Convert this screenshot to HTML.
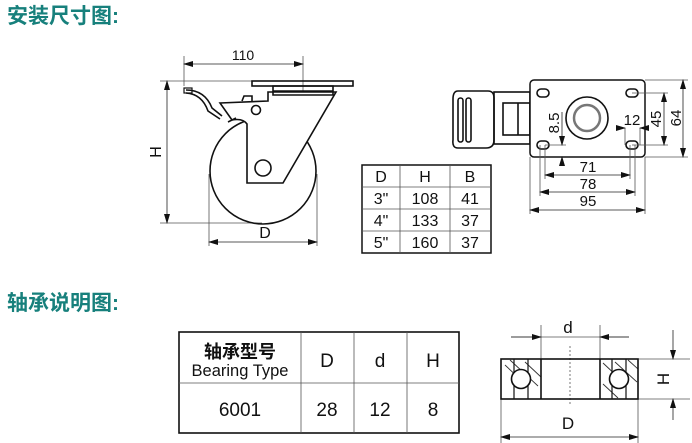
<!DOCTYPE html>
<html><head><meta charset="utf-8"><style>
html,body{margin:0;padding:0;background:#fff;width:692px;height:443px;overflow:hidden}
svg{display:block}
.h{font-family:"Liberation Sans","Noto Sans CJK SC",sans-serif;font-weight:bold;font-size:21px;fill:#17807c}
text{font-family:"Liberation Sans","Noto Sans CJK SC",sans-serif;fill:#111}
.l{stroke:#111;fill:none;stroke-width:1.6}
.t{stroke:#555;fill:none;stroke-width:0.8}
.d{stroke:#222;fill:none;stroke-width:0.8}
</style></head><body>
<svg width="692" height="443" viewBox="0 0 692 443" xmlns="http://www.w3.org/2000/svg">
<defs>
<marker id="a" markerWidth="10" markerHeight="6" refX="9" refY="3" orient="auto" markerUnits="userSpaceOnUse"><path d="M0,0 L10,3 L0,6 Z" fill="#111"/></marker>
<marker id="b" markerWidth="10" markerHeight="6" refX="1" refY="3" orient="auto" markerUnits="userSpaceOnUse"><path d="M10,0 L0,3 L10,6 Z" fill="#111"/></marker>
</defs>
<text x="7" y="23" class="h">安装尺寸图:</text>
<text x="7" y="310" class="h">轴承说明图:</text>

<!-- caster side view -->
<line class="t" x1="184" y1="56" x2="184" y2="86"/>
<line class="t" x1="303" y1="56" x2="303" y2="131"/>
<line class="d" x1="184" y1="64" x2="303" y2="64" marker-start="url(#b)" marker-end="url(#a)"/>
<text x="243" y="60" font-size="14" text-anchor="middle">110</text>
<line class="t" x1="160" y1="81" x2="252" y2="81"/>
<line class="t" x1="160" y1="223" x2="262" y2="223"/>
<line class="d" x1="167" y1="81" x2="167" y2="223" marker-start="url(#b)" marker-end="url(#a)"/>
<text transform="translate(161,152) rotate(-90)" font-size="16" text-anchor="middle">H</text>
<line class="d" x1="263" y1="129" x2="303" y2="129" marker-end="url(#a)"/>
<line class="t" x1="263" y1="129" x2="263" y2="178"/>
<text x="285" y="126" font-size="16" text-anchor="middle">B</text>
<line class="t" x1="209" y1="174" x2="209" y2="246"/>
<line class="t" x1="317" y1="174" x2="317" y2="246"/>
<line class="d" x1="209" y1="242" x2="317" y2="242" marker-start="url(#b)" marker-end="url(#a)"/>
<text x="265" y="238" font-size="16" text-anchor="middle">D</text>
<circle class="l" cx="263" cy="171" r="53"/>
<path d="M220,103 L268,101 L268,92 L336,92 L283,183 L247,183 L247,124 Q243,118 232,120 Z" fill="#fff" stroke="#111" stroke-width="1.6"/>
<rect class="l" x="252" y="81" width="101" height="5" fill="#fff"/>
<path class="l" d="M273,86 L333,86 L333,95 L273,95 Z" fill="#fff"/>
<line class="l" x1="273" y1="91" x2="333" y2="91"/>
<circle class="l" cx="256" cy="110" r="4.5"/>
<circle class="l" cx="263" cy="168" r="8"/>
<path class="l" d="M186,90 Q205,90 212,108 L222,116" stroke-width="1.3"/>
<path class="l" d="M186,93 Q202,94 208,111 L220,119" stroke-width="1.3"/>
<rect x="184" y="88" width="8" height="5" fill="none" stroke="#111" stroke-width="1.2"/>
<path class="l" d="M242,101 L244,96 L252,96 L252,101" stroke-width="1.2"/>
<path class="l" d="M228,122 L236,118" stroke-width="2"/>

<!-- table 1 -->
<g font-size="16" text-anchor="middle">
<rect x="362" y="165" width="129" height="88" fill="none" stroke="#111" stroke-width="1.5"/>
<line class="t" x1="400" y1="165" x2="400" y2="253"/>
<line class="t" x1="450" y1="165" x2="450" y2="253"/>
<line class="t" x1="362" y1="187" x2="491" y2="187"/>
<line class="t" x1="362" y1="209" x2="491" y2="209"/>
<line class="t" x1="362" y1="231" x2="491" y2="231"/>
<text x="381" y="182">D</text><text x="425" y="182">H</text><text x="470" y="182">B</text>
<text x="381" y="204">3"</text><text x="425" y="204">108</text><text x="470" y="204">41</text>
<text x="381" y="226">4"</text><text x="425" y="226">133</text><text x="470" y="226">37</text>
<text x="381" y="248">5"</text><text x="425" y="248">160</text><text x="470" y="248">37</text>
</g>

<!-- top view -->
<path class="l" d="M458,91 L488,91 Q494,91 494,98 L494,140 Q494,148 486,148 L458,148 Q452,148 453,140 L453,99 Q453,91 458,91 Z" stroke-width="1.3"/>
<rect x="458" y="98" width="5" height="44" rx="2.5" class="l" stroke-width="1"/>
<rect x="466" y="98" width="5" height="44" rx="2.5" class="l" stroke-width="1"/>
<rect x="494" y="92" width="36" height="52" class="l" stroke-width="1.3"/>
<rect x="503" y="103" width="27" height="32" class="l" stroke-width="1.3"/>
<line class="l" x1="518" y1="103" x2="518" y2="135" stroke-width="1.1"/>
<rect x="530" y="80" width="115" height="77" rx="4" fill="#fff" stroke="#111" stroke-width="1.5"/>
<rect x="537" y="89" width="12" height="8" rx="4" class="l" stroke-width="1.2"/>
<rect x="626" y="89" width="12" height="8" rx="4" class="l" stroke-width="1.2"/>
<rect x="537" y="141" width="12" height="8" rx="4" class="l" stroke-width="1.2"/>
<rect x="626" y="141" width="12" height="8" rx="4" class="l" stroke-width="1.2"/>
<circle class="l" cx="587" cy="118" r="21" stroke-width="1.3"/>
<circle cx="587" cy="118" r="13" fill="none" stroke="#777" stroke-width="2.5"/>
<g class="t">
<line x1="530" y1="157" x2="530" y2="214"/><line x1="645" y1="157" x2="645" y2="214"/>
<line x1="540" y1="145" x2="540" y2="196"/><line x1="635" y1="145" x2="635" y2="196"/>
<line x1="545" y1="145" x2="545" y2="179"/><line x1="630" y1="145" x2="630" y2="179"/>
<line x1="645" y1="80" x2="688" y2="80"/><line x1="645" y1="157" x2="688" y2="157"/>
<line x1="632" y1="93" x2="668" y2="93"/><line x1="632" y1="145" x2="668" y2="145"/>
<line x1="545" y1="145" x2="566" y2="145"/>
<line x1="625" y1="128" x2="625" y2="145"/><line x1="640" y1="128" x2="640" y2="145"/>
</g>
<line class="d" x1="530" y1="210" x2="645" y2="210" marker-start="url(#b)" marker-end="url(#a)"/>
<line class="d" x1="540" y1="192" x2="635" y2="192" marker-start="url(#b)" marker-end="url(#a)"/>
<line class="d" x1="545" y1="175" x2="630" y2="175" marker-start="url(#b)" marker-end="url(#a)"/>
<line class="d" x1="683" y1="80" x2="683" y2="157" marker-start="url(#b)" marker-end="url(#a)"/>
<line class="d" x1="664" y1="93" x2="664" y2="145" marker-start="url(#b)" marker-end="url(#a)"/>
<line class="d" x1="562" y1="112" x2="562" y2="145" marker-end="url(#a)"/>
<line class="d" x1="562" y1="166" x2="562" y2="157" marker-end="url(#a)"/>
<line class="d" x1="618" y1="128" x2="625" y2="128" marker-end="url(#a)"/>
<line class="d" x1="647" y1="128" x2="640" y2="128" marker-end="url(#a)"/>
<g font-size="15" text-anchor="middle">
<text x="588" y="206">95</text><text x="588" y="189">78</text><text x="588" y="172">71</text>
<text x="632" y="125">12</text>
<text transform="translate(681,118) rotate(-90)">64</text>
<text transform="translate(661,119) rotate(-90)">45</text>
<text transform="translate(559,123) rotate(-90)">8.5</text>
</g>

<!-- bearing table -->
<g text-anchor="middle">
<rect x="179" y="332" width="280" height="101" fill="none" stroke="#111" stroke-width="1.6"/>
<line class="t" x1="301" y1="332" x2="301" y2="433"/>
<line class="t" x1="354" y1="332" x2="354" y2="433"/>
<line class="t" x1="407" y1="332" x2="407" y2="433"/>
<line class="t" x1="179" y1="383" x2="459" y2="383"/>
<text x="240" y="358" font-size="18" font-weight="bold">轴承型号</text>
<text x="240" y="376" font-size="16.5">Bearing Type</text>
<text x="327" y="367" font-size="19">D</text>
<text x="380" y="367" font-size="19">d</text>
<text x="433" y="367" font-size="19">H</text>
<text x="240" y="416" font-size="19">6001</text>
<text x="327" y="416" font-size="19">28</text>
<text x="380" y="416" font-size="19">12</text>
<text x="433" y="416" font-size="19">8</text>
</g>

<!-- bearing drawing -->
<g class="t">
<line x1="541" y1="325" x2="541" y2="359"/><line x1="600" y1="325" x2="600" y2="359"/>
<line x1="501" y1="399" x2="501" y2="443"/><line x1="638" y1="399" x2="638" y2="443"/>
<line x1="638" y1="359" x2="690" y2="359"/><line x1="638" y1="399" x2="690" y2="399"/>
<line x1="570" y1="346" x2="570" y2="406" stroke-dasharray="2,2"/>
<line x1="511" y1="337" x2="629" y2="337"/>
</g>
<line class="d" x1="511" y1="337" x2="541" y2="337" marker-end="url(#a)"/>
<line class="d" x1="629" y1="337" x2="600" y2="337" marker-end="url(#a)"/>
<line class="d" x1="501" y1="437" x2="638" y2="437" marker-start="url(#b)" marker-end="url(#a)"/>
<line class="d" x1="673" y1="330" x2="673" y2="359" marker-end="url(#a)"/>
<line class="d" x1="673" y1="420" x2="673" y2="399" marker-end="url(#a)"/>
<g stroke="#333" stroke-width="0.9">
<line x1="505" y1="365" x2="522" y2="381"/><line x1="510" y1="360" x2="538" y2="386"/><line x1="525" y1="362" x2="541" y2="377"/>
<line x1="603" y1="363" x2="620" y2="379"/><line x1="615" y1="362" x2="637" y2="382"/><line x1="628" y1="360" x2="638" y2="369"/>
<line x1="603" y1="384" x2="618" y2="398"/>
</g>
<line x1="514" y1="359" x2="514" y2="399" stroke="#111" stroke-width="1.2"/>
<line x1="528" y1="359" x2="528" y2="399" stroke="#111" stroke-width="1.2"/>
<line x1="612" y1="359" x2="612" y2="399" stroke="#111" stroke-width="1.2"/>
<line x1="626" y1="359" x2="626" y2="399" stroke="#111" stroke-width="1.2"/>
<rect x="501" y="359" width="137" height="40" fill="none" stroke="#111" stroke-width="1.6"/>
<line x1="541" y1="359" x2="541" y2="399" stroke="#111" stroke-width="1.6"/>
<line x1="600" y1="359" x2="600" y2="399" stroke="#111" stroke-width="1.6"/>
<circle cx="521" cy="379" r="9.5" fill="#fff" stroke="#111" stroke-width="1.6"/>
<circle cx="619" cy="379" r="9.5" fill="#fff" stroke="#111" stroke-width="1.6"/>
<text x="568" y="333" font-size="17" text-anchor="middle">d</text>
<text x="568" y="429" font-size="17" text-anchor="middle">D</text>
<text transform="translate(669,379) rotate(-90)" font-size="17" text-anchor="middle">H</text>
</svg>
</body></html>
